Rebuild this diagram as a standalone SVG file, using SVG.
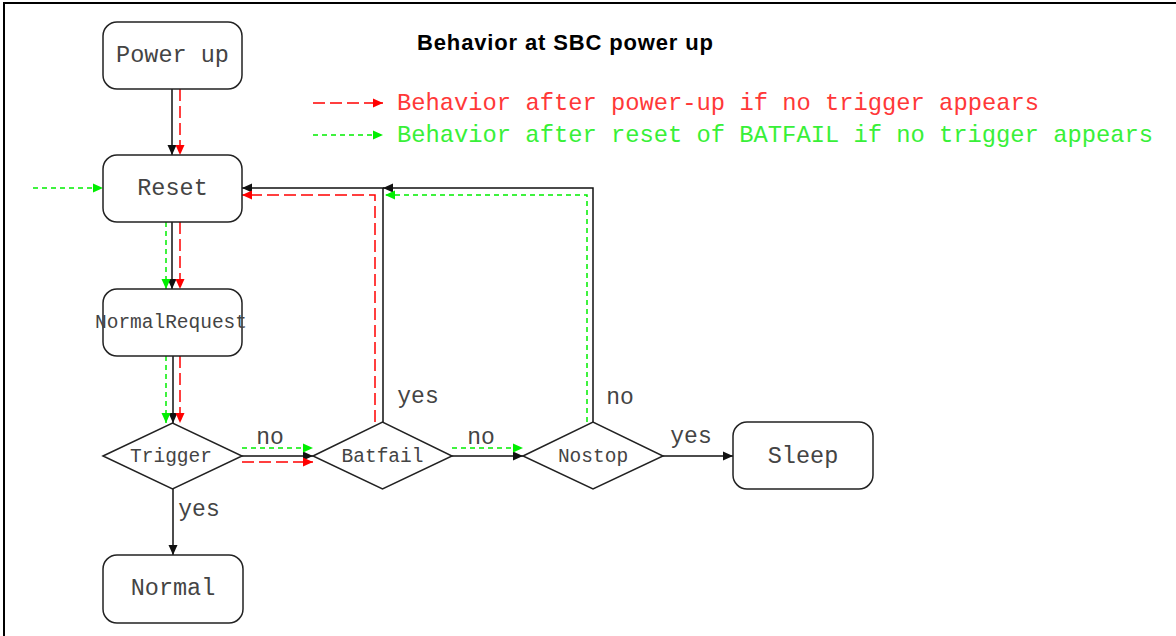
<svg xmlns="http://www.w3.org/2000/svg" width="1176" height="636" viewBox="0 0 1176 636">
<style>
.box{fill:#fff;stroke:#222;stroke-width:1.5}
.nt{font-family:"Liberation Mono","Courier New",monospace;fill:#444;text-anchor:middle}
.big{font-size:23.5px}
.small{font-size:19.5px}
.lbl{font-family:"Liberation Mono","Courier New",monospace;font-size:23px;fill:#444;text-anchor:middle}
.blk{fill:none;stroke:#111;stroke-width:1.5}
.red{fill:none;stroke:#ff0000;stroke-width:1.5;stroke-dasharray:12 5}
.grn{fill:none;stroke:#00ee00;stroke-width:1.5;stroke-dasharray:5 4}
</style>
<defs>
<marker id="ab" markerUnits="userSpaceOnUse" markerWidth="11" markerHeight="11" refX="10" refY="5" orient="auto"><path d="M0,0.5 L10,5 L0,9.5 z" fill="#111"/></marker>
<marker id="ar" markerUnits="userSpaceOnUse" markerWidth="11" markerHeight="11" refX="10" refY="5" orient="auto"><path d="M0,0.5 L10,5 L0,9.5 z" fill="#ff0000"/></marker>
<marker id="ag" markerUnits="userSpaceOnUse" markerWidth="11" markerHeight="11" refX="10" refY="5" orient="auto"><path d="M0,0.5 L10,5 L0,9.5 z" fill="#00ee00"/></marker>
</defs>
<rect width="1176" height="636" fill="#fff"/>
<path d="M4,636 V3 H1176" fill="none" stroke="#000" stroke-width="2"/>
<text x="565" y="50" font-family="'Liberation Sans',Arial,sans-serif" font-weight="bold" font-size="22" text-anchor="middle" textLength="296" fill="#000">Behavior at SBC power up</text>
<g id="legend">
<path class="red" d="M313,103 H383" marker-end="url(#ar)"/>
<path class="grn" d="M313,135 H383" marker-end="url(#ag)"/>
<text x="397" y="110" font-family="'Liberation Mono','Courier New',monospace" font-size="23.8" fill="#ff3838" textLength="642">Behavior after power-up if no trigger appears</text>
<text x="397" y="142" font-family="'Liberation Mono','Courier New',monospace" font-size="23.8" fill="#38f038" textLength="756">Behavior after reset of BATFAIL if no trigger appears</text>
</g>
<g id="connectors">
<path class="blk" d="M172,89 V155" marker-end="url(#ab)"/>
<path class="red" d="M180,89 V155" marker-end="url(#ar)"/>
<path class="blk" d="M172,222 V289" marker-end="url(#ab)"/>
<path class="grn" d="M166,222 V289" marker-end="url(#ag)"/>
<path class="red" d="M180,222 V289" marker-end="url(#ar)"/>
<path class="blk" d="M173,356 V423" marker-end="url(#ab)"/>
<path class="grn" d="M166,356 V423" marker-end="url(#ag)"/>
<path class="red" d="M180,356 V423" marker-end="url(#ar)"/>
<path class="blk" d="M173,489 V555" marker-end="url(#ab)"/>
<path class="blk" d="M242,456 H313" marker-end="url(#ab)"/>
<path class="grn" d="M242,448 H313" marker-end="url(#ag)"/>
<path class="red" d="M242,462 H313" marker-end="url(#ar)"/>
<path class="blk" d="M452,456 H523" marker-end="url(#ab)"/>
<path class="grn" d="M452,448 H523" marker-end="url(#ag)"/>
<path class="blk" d="M663,456 H733" marker-end="url(#ab)"/>
<path class="blk" d="M383,422 V188 H242" marker-end="url(#ab)"/>
<path class="red" d="M375,422 V195 H242" marker-end="url(#ar)"/>
<path class="blk" d="M593,422 V188 H383" marker-end="url(#ab)"/>
<path class="grn" d="M587,422 V195 H385" marker-end="url(#ag)"/>
<path class="grn" d="M33,188 H103" marker-end="url(#ag)"/>
<text class="lbl" x="270" y="444">no</text>
<text class="lbl" x="481" y="444">no</text>
<text class="lbl" x="691" y="443">yes</text>
<text class="lbl" x="418" y="403">yes</text>
<text class="lbl" x="620" y="404">no</text>
<text class="lbl" x="199" y="516">yes</text>
</g>
<g id="powerup"><rect class="box" x="103" y="22" width="139" height="67" rx="14"/><text class="nt big" x="172.5" y="62">Power up</text></g>
<g id="reset"><rect class="box" x="103" y="155" width="139" height="67" rx="14"/><text class="nt big" x="172.5" y="195">Reset</text></g>
<g id="normalrequest"><rect class="box" x="103" y="289" width="139" height="67" rx="14"/><text class="nt small" x="171" y="328" textLength="152">NormalRequest</text></g>
<g id="trigger"><path class="box" d="M103,456 L172.5,423 L242,456 L172.5,489 Z"/><text class="nt small" x="171" y="462">Trigger</text></g>
<g id="batfail"><path class="box" d="M313,456 L382.5,422 L452,456 L382.5,489 Z"/><text class="nt small" x="382.5" y="462">Batfail</text></g>
<g id="nostop"><path class="box" d="M523,456 L593,422 L663,456 L593,489 Z"/><text class="nt small" x="593" y="462">Nostop</text></g>
<g id="sleep"><rect class="box" x="733" y="422" width="140" height="67" rx="14"/><text class="nt big" x="803" y="463">Sleep</text></g>
<g id="normal"><rect class="box" x="103" y="555" width="140" height="68" rx="14"/><text class="nt big" x="173" y="595">Normal</text></g>
</svg>
